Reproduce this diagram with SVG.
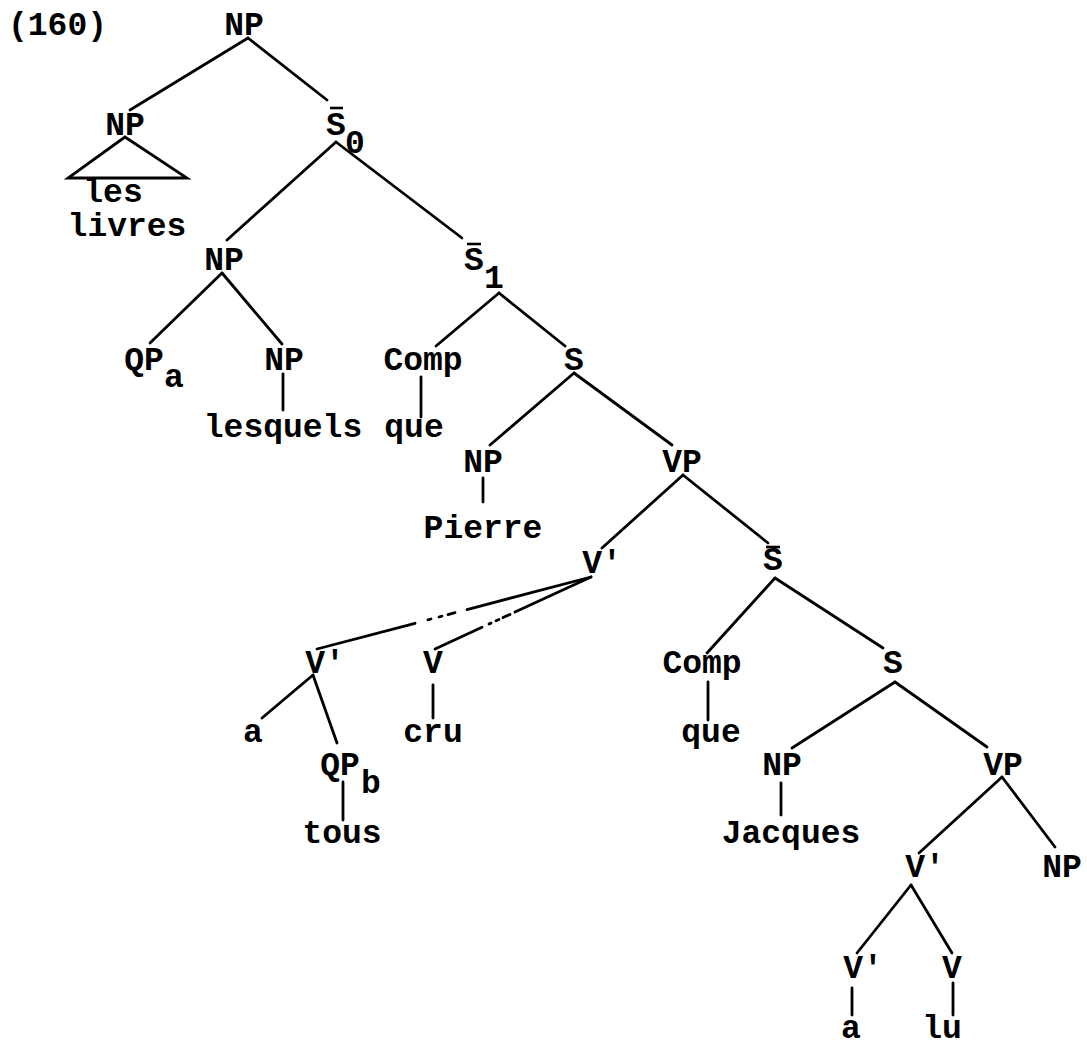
<svg xmlns="http://www.w3.org/2000/svg" width="1087" height="1049" viewBox="0 0 1087 1049">
<style>
text{font-family:"Liberation Mono","Courier New",monospace;font-size:33px;font-weight:bold;fill:#000;text-anchor:middle}
.st{text-anchor:start}
.e line,.e path{stroke:#000;stroke-width:2.8;stroke-linecap:round;fill:none}
.bar{stroke:#000;stroke-width:2.6}
</style>
<rect width="1087" height="1049" fill="#fff"/>
<g id="label160"><text class="st" x="8" y="35">(160)</text></g>
<g id="np-root"><text x="244" y="35">NP</text></g>
<g id="np-livres"><text x="125" y="135">NP</text></g>
<g id="les-livres"><text x="113" y="202">les</text><text x="127" y="236">livres</text></g>
<g id="sbar0"><text x="336" y="135">S</text><line class="bar" x1="330" y1="108" x2="343" y2="108"/><text x="355" y="153">0</text></g>
<g id="np-qp"><text x="224" y="270">NP</text></g>
<g id="qpa"><text x="144" y="370">QP</text><text x="174" y="387">a</text></g>
<g id="np-lesquels"><text x="284" y="370">NP</text></g>
<g id="lesquels"><text x="283" y="437">lesquels</text></g>
<g id="sbar1"><text x="474" y="270">S</text><line class="bar" x1="467" y1="244" x2="481" y2="244"/><text x="494" y="288">1</text></g>
<g id="comp1"><text x="423" y="370">Comp</text></g>
<g id="que1"><text x="414" y="437">que</text></g>
<g id="s1"><text x="574" y="370">S</text></g>
<g id="np-pierre"><text x="483" y="472">NP</text></g>
<g id="pierre"><text x="483" y="538">Pierre</text></g>
<g id="vp1"><text x="682" y="472">VP</text></g>
<g id="vbar-top"><text x="602" y="573">V'</text></g>
<g id="sbar2"><text x="773" y="570">S</text><line class="bar" x1="766" y1="547" x2="780" y2="547"/></g>
<g id="vbar-a"><text x="325" y="673">V'</text></g>
<g id="v-cru"><text x="433" y="673">V</text></g>
<g id="a1"><text x="253" y="742">a</text></g>
<g id="cru"><text x="433" y="742">cru</text></g>
<g id="qpb"><text x="340" y="775">QP</text><text x="371" y="793">b</text></g>
<g id="tous"><text x="342" y="843">tous</text></g>
<g id="comp2"><text x="702" y="673">Comp</text></g>
<g id="que2"><text x="711" y="742">que</text></g>
<g id="s2"><text x="893" y="673">S</text></g>
<g id="np-jacques"><text x="782" y="775">NP</text></g>
<g id="jacques"><text x="791" y="843">Jacques</text></g>
<g id="vp2"><text x="1003" y="775">VP</text></g>
<g id="vbar-mid"><text x="925" y="877">V'</text></g>
<g id="np-obj"><text x="1062" y="877">NP</text></g>
<g id="vbar-low"><text x="863" y="978">V'</text></g>
<g id="v-lu"><text x="952" y="978">V</text></g>
<g id="a2"><text x="851" y="1038">a</text></g>
<g id="lu"><text x="942" y="1038">lu</text></g>
<g id="edges" class="e">
<line x1="248" y1="38" x2="130" y2="110"/>
<line x1="248" y1="38" x2="327" y2="100"/>
<path d="M125 137 L68 178 L187 178 Z"/>
<line x1="336" y1="142" x2="227" y2="240"/>
<line x1="336" y1="142" x2="462" y2="238"/>
<line x1="222" y1="273" x2="150" y2="343"/>
<line x1="222" y1="273" x2="282" y2="344"/>
<line x1="283" y1="374" x2="283" y2="410"/>
<line x1="499" y1="293" x2="436" y2="346"/>
<line x1="499" y1="293" x2="565" y2="346"/>
<line x1="421" y1="377" x2="421" y2="417"/>
<line x1="574" y1="373" x2="490" y2="445"/>
<line x1="574" y1="373" x2="672" y2="445"/>
<line x1="483" y1="478" x2="483" y2="502"/>
<line x1="683" y1="475" x2="602" y2="548"/>
<line x1="683" y1="475" x2="768" y2="543"/>
<line x1="591" y1="577" x2="467" y2="609.6"/>
<line x1="455" y1="612.7" x2="448" y2="614.6"/>
<line x1="442" y1="616.2" x2="439" y2="617"/>
<line x1="431" y1="619" x2="428" y2="619.8"/>
<line x1="415" y1="623.3" x2="317" y2="649"/>
<line x1="591" y1="577" x2="515" y2="612.1"/>
<line x1="510" y1="614.4" x2="503" y2="617.6"/>
<line x1="499" y1="619.5" x2="496" y2="620.8"/>
<line x1="491" y1="623.1" x2="489" y2="624"/>
<line x1="482" y1="627.3" x2="435" y2="649"/>
<line x1="313" y1="675" x2="262" y2="718"/>
<line x1="313" y1="675" x2="337" y2="743"/>
<line x1="433" y1="685" x2="433" y2="718"/>
<line x1="343" y1="782" x2="343" y2="820"/>
<line x1="775" y1="578" x2="707" y2="653"/>
<line x1="775" y1="578" x2="883" y2="648"/>
<line x1="708" y1="682" x2="708" y2="720"/>
<line x1="895" y1="682" x2="792" y2="748"/>
<line x1="895" y1="682" x2="987" y2="747"/>
<line x1="781" y1="783" x2="781" y2="815"/>
<line x1="1002" y1="777" x2="919" y2="853"/>
<line x1="1002" y1="777" x2="1055" y2="847"/>
<line x1="911" y1="885" x2="857" y2="953"/>
<line x1="911" y1="885" x2="952" y2="953"/>
<line x1="852" y1="988" x2="852" y2="1015"/>
<line x1="953" y1="983" x2="953" y2="1015"/>
</g>
</svg>
